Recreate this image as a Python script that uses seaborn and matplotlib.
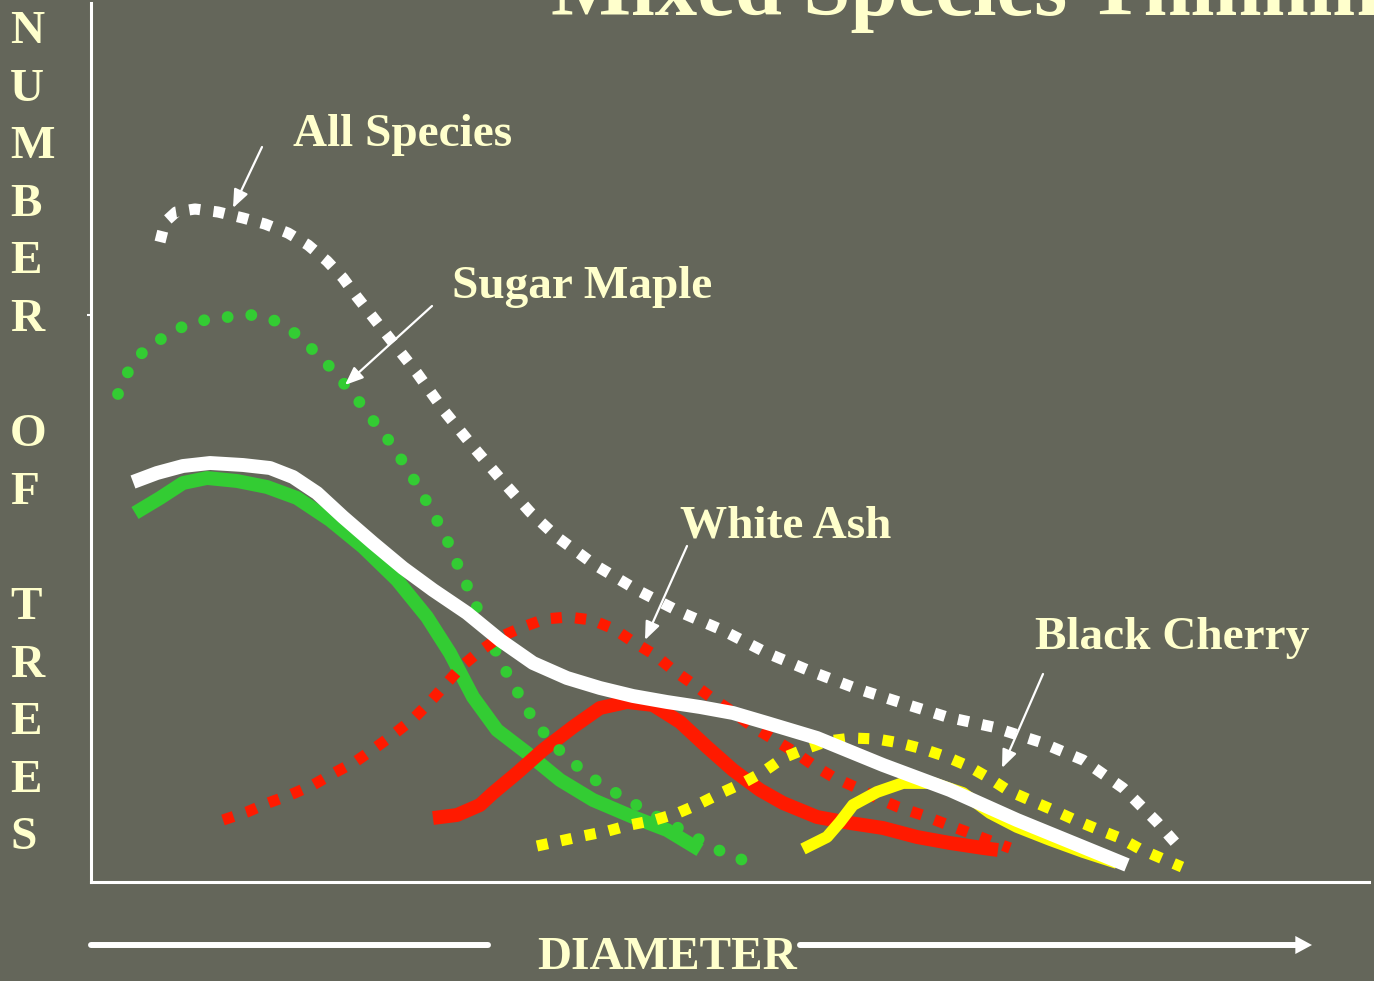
import matplotlib
matplotlib.use("Agg")
import matplotlib.pyplot as plt
import seaborn as sns

# --- values (diameter, number of trees; arbitrary units) ---
all_dot_d = [6.9, 7.4, 8.5, 10.4, 12.7, 15.2, 17.4, 19.7, 21.7, 23.6, 25.2, 26.6, 29.6, 32.6,
             35.4, 38.4, 41.4, 43.9, 46.6, 50.4, 54.6, 58.9, 63.1, 67.6, 71.9, 76.4, 81.1,
             85.6, 90.2, 94.9, 99.2, 103.2, 106.6, 108.9]
all_dot_n = [64.0, 66.0, 67.0, 67.3, 67.0, 66.4, 65.8, 64.9, 63.7, 62.1, 60.4, 58.5, 54.7, 50.9,
             47.0, 43.3, 39.8, 37.0, 34.5, 31.7, 29.2, 27.0, 25.2, 22.9, 21.1, 19.4, 17.9,
             16.5, 15.5, 14.0, 12.2, 9.4, 6.0, 3.4]

maple_dot_d = [2.7, 3.7, 5.1, 7.0, 9.1, 11.4, 13.7, 16.1, 18.5, 20.5, 22.2, 23.9, 25.5, 27.0,
               28.4, 29.9, 31.2, 32.5, 33.7, 34.8, 35.9, 36.8, 37.8, 38.8, 39.7, 40.7, 41.8,
               43.0, 44.2, 45.7, 47.3, 49.2, 51.1, 53.2, 55.2, 57.4, 59.5, 61.6, 63.7, 66.1]
maple_dot_n = [48.8, 51.0, 52.9, 54.3, 55.5, 56.2, 56.5, 56.7, 56.1, 54.8, 53.2, 51.5, 49.6, 47.8,
               45.9, 44.0, 42.0, 39.9, 37.8, 35.8, 33.6, 31.4, 29.2, 27.0, 24.8, 22.6, 20.5,
               18.4, 16.3, 14.4, 12.7, 11.1, 9.7, 8.5, 7.3, 6.1, 5.0, 3.8, 2.7, 1.9]

ash_dot_d = [13.2, 15.6, 17.7, 19.9, 22.2, 24.3, 26.4, 28.4, 30.3, 32.2, 33.9, 35.5, 37.1, 38.9,
             40.9, 43.2, 45.4, 47.7, 50.1, 52.3, 54.4, 56.4, 58.2, 60.2, 62.1, 64.2, 66.2,
             68.2, 70.2, 72.2, 74.2, 76.4, 78.6, 80.7, 83.1, 85.2, 87.6, 89.7, 91.9]
ash_dot_n = [6.2, 7.0, 7.9, 8.7, 9.7, 10.9, 12.0, 13.4, 14.8, 16.3, 18.0, 19.8, 21.6, 23.1,
             24.5, 25.5, 26.3, 26.5, 26.2, 25.3, 23.9, 22.7, 21.2, 19.8, 18.4, 17.0, 15.5,
             14.3, 13.1, 11.7, 10.5, 9.5, 8.4, 7.5, 6.7, 5.9, 5.0, 4.2, 3.4]

cherry_dot_d = [44.6, 46.9, 49.2, 51.7, 53.9, 56.4, 58.7, 60.8, 63.0, 65.2, 67.2, 69.2, 71.4,
                73.7, 76.1, 78.6, 80.9, 83.2, 85.6, 87.7, 89.8, 91.8, 94.1, 96.2, 98.4, 100.6,
                102.9, 104.9, 107.2, 109.1]
cherry_dot_n = [3.6, 4.1, 4.6, 5.1, 5.7, 6.2, 6.9, 7.8, 8.9, 9.9, 11.0, 12.4, 13.3,
                14.1, 14.4, 14.3, 13.9, 13.3, 12.5, 11.6, 10.4, 9.1, 8.1, 7.2, 6.2, 5.3,
                4.4, 3.3, 2.3, 1.5]

all_d = [4.2, 6.6, 9.2, 11.9, 15.2, 17.9, 20.2, 22.6, 25.2, 28.2, 31.2, 34.2, 37.6, 40.9,
         44.2, 47.6, 50.9, 54.2, 57.6, 60.9, 64.2, 67.6, 72.6, 79.2, 85.9, 92.6, 99.2, 103.6]
all_n = [40.0, 40.9, 41.6, 41.9, 41.7, 41.4, 40.5, 38.9, 36.5, 33.9, 31.4, 29.2, 26.9, 24.2,
         21.9, 20.4, 19.4, 18.6, 18.0, 17.5, 16.9, 15.9, 14.4, 11.7, 9.2, 6.2, 3.5, 1.7]

maple_d = [4.4, 6.9, 9.2, 11.6, 14.6, 17.6, 20.6, 23.9, 27.2, 30.6, 33.6, 35.9, 38.2, 40.6,
           43.6, 46.9, 50.2, 54.2, 57.6, 60.9]
maple_n = [36.9, 38.4, 39.9, 40.4, 40.1, 39.5, 38.4, 36.2, 33.5, 30.2, 26.5, 22.9, 18.5, 15.2,
           12.9, 10.2, 8.2, 6.5, 5.2, 3.2]

ash_d = [34.2, 36.6, 38.9, 40.2, 42.6, 45.2, 48.2, 50.9, 53.6, 56.2, 58.9, 61.6, 64.2, 66.9,
         69.2, 72.6, 75.9, 79.2, 82.6, 85.9, 89.2, 90.7]
ash_n = [6.4, 6.7, 7.7, 8.9, 10.9, 13.2, 15.5, 17.4, 18.0, 17.7, 16.0, 13.5, 11.2, 9.2,
         7.9, 6.5, 5.9, 5.4, 4.5, 3.9, 3.4, 3.2]

cherry_d = [71.2, 73.6, 74.9, 76.2, 78.6, 81.2, 84.2, 87.2, 89.9, 92.6, 95.9, 99.2, 102.6]
cherry_n = [3.3, 4.5, 6.0, 7.7, 9.0, 9.9, 9.9, 8.9, 6.9, 5.5, 4.2, 3.0, 1.9]

labels = ["All Species", "Sugar Maple", "White Ash", "Black Cherry"]
y_letters = ["N", "U", "M", "B", "E", "R", "", "O", "F", "", "T", "R", "E", "E", "S"]

bg = "#64665a"
cream = "#ffffcc"
green = "#33cc33"
red = "#ff1a00"
yellow = "#ffff00"

sns.set_style("ticks")
plt.rcParams["font.family"] = ["Liberation Serif", "DejaVu Serif"]
plt.rcParams["font.weight"] = "bold"

W, H = 1374, 981
fig = plt.figure(figsize=(W / 100, H / 100), dpi=100, facecolor=bg)
ax = fig.add_axes([91 / W, 99 / H, 1278 / W, 879 / H])
ax.set_facecolor(bg)


def draw(d, n, color, lw, ls, cap="butt"):
    sns.lineplot(x=d, y=n, ax=ax, color=color, lw=lw, linestyle=ls, sort=False,
                 estimator=None, dash_capstyle=cap, solid_capstyle="butt",
                 solid_joinstyle="round")


squares = (0, (1, 1.2))
dots = (0, (0.01, 2.0))

# solid = after thinning, dotted = before
draw(maple_d, maple_n, green, 10, "-")
draw(ash_d, ash_n, red, 10, "-")
draw(all_dot_d, all_dot_n, "white", 8, squares)
draw(maple_dot_d, maple_dot_n, green, 8.5, dots, cap="round")
draw(ash_dot_d, ash_dot_n, red, 8, squares)
draw(cherry_dot_d, cherry_dot_n, yellow, 8, squares)
draw(cherry_d, cherry_n, yellow, 8.5, "-")
draw(all_d, all_n, "white", 10, "-")

ax.set_xlim(0, 127.8)
ax.set_ylim(0, 87.9)
ax.set_xlabel("")
ax.set_ylabel("")
ax.set_xticks([])
ax.set_yticks([56.7])
ax.set_yticklabels([""])
ax.tick_params(axis="y", length=3, width=1.5, color="white")
for s in ["top", "right"]:
    ax.spines[s].set_visible(False)
for s in ["left", "bottom"]:
    ax.spines[s].set_color("white")
    ax.spines[s].set_linewidth(2.2)

# title (runs off the top of the slide)
fig.text(551 / W, 1 - 15 / H, "Mixed Species Thinning", color=cream, fontsize=61,
         fontweight="bold", va="baseline", ha="left")

# vertical y label, one letter per row
for i, ch in enumerate(y_letters):
    fig.text(10 / W, 1 - (43 + 57.6 * i) / H, ch, color=cream, fontsize=34,
             fontweight="bold", va="baseline", ha="left")

# x label with arrow
fig.text(537 / W, 12 / H, "DIAMETER", color=cream, fontsize=34, fontweight="bold",
         va="baseline", ha="left")
ax.annotate("", xy=(488, 36), xytext=(91, 36), xycoords="figure pixels",
            arrowprops=dict(arrowstyle="-", color="white", lw=4.3, shrinkA=0, shrinkB=0))
ax.annotate("", xy=(1296, 36), xytext=(800, 36), xycoords="figure pixels",
            arrowprops=dict(arrowstyle="-", color="white", lw=4.3, shrinkA=0, shrinkB=0))
ax.annotate("", xy=(1312, 36), xytext=(1290, 36), xycoords="figure pixels",
            arrowprops=dict(arrowstyle="-|>,head_length=1.2,head_width=0.65", color="white",
                            lw=0, mutation_scale=10, shrinkA=0, shrinkB=0))

# callouts: label position (left, baseline) and arrow start/tip in slide pixels
label_pos = [(293, 146), (452, 298), (680, 538), (1035, 649)]
arrow_from = [(262, 147), (432, 306), (687, 546), (1043, 674)]
arrow_to = [(233, 208), (345, 385), (645, 640), (1002, 768)]
for lab, (tx, ty), (x0, y0), (x1, y1) in zip(labels, label_pos, arrow_from, arrow_to):
    fig.text(tx / W, 1 - ty / H, lab, color=cream, fontsize=34, fontweight="bold",
             va="baseline", ha="left")
    ax.annotate("", xy=(x1, H - y1), xytext=(x0, H - y0), xycoords="figure pixels",
                arrowprops=dict(arrowstyle="-|>,head_length=1.1,head_width=0.45",
                                color="white", lw=1.6, mutation_scale=10,
                                shrinkA=0, shrinkB=0))

fig.savefig("out.png", dpi=100, facecolor=bg)
